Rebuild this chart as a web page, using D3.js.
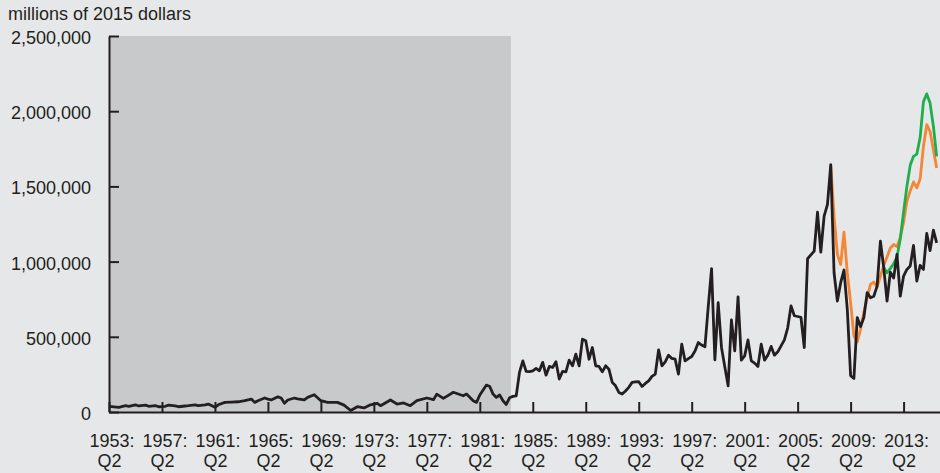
<!DOCTYPE html>
<html>
<head>
<meta charset="utf-8">
<script src="https://cdn.jsdelivr.net/npm/d3@7"></script>
<style>
  body { margin: 0; background: #e6e7e9; }
  svg { display: block; }
  text { font-family: "Liberation Sans", Arial, Helvetica, sans-serif; fill: #231f20; }
</style>
</head>
<body>
<svg id="chart" width="940" height="473"></svg>
<script>
const WIDTH = 940;
const HEIGHT = 473;
const MARGIN = { top: 36, right: 0, bottom: 61, left: 109 };

// millions of 2015 dollars
const actualSeries = [
  ['1953Q2', 38000], ['1954Q1', 31000], ['1954Q3', 42000], ['1954Q4', 38000], ['1955Q2', 48000],
  ['1955Q3', 40000], ['1956Q1', 46000], ['1956Q2', 38000], ['1956Q4', 42000], ['1957Q1', 35000],
  ['1957Q3', 38000], ['1957Q4', 46000], ['1958Q2', 40000], ['1958Q3', 35000], ['1959Q1', 40000],
  ['1959Q2', 42000], ['1959Q4', 48000], ['1960Q1', 42000], ['1960Q3', 48000], ['1960Q4', 53000],
  ['1961Q2', 31000], ['1961Q3', 48000], ['1962Q1', 64000], ['1962Q3', 66000], ['1963Q1', 68000],
  ['1963Q3', 75000], ['1964Q1', 86000], ['1964Q2', 64000], ['1964Q3', 75000], ['1965Q1', 93000],
  ['1965Q2', 86000], ['1965Q3', 80000], ['1966Q1', 101000], ['1966Q2', 93000], ['1966Q3', 58000],
  ['1966Q4', 80000], ['1967Q2', 93000], ['1967Q3', 88000], ['1968Q1', 80000], ['1968Q2', 97000],
  ['1968Q4', 115000], ['1969Q2', 75000], ['1969Q4', 64000], ['1970Q3', 64000], ['1971Q1', 46000],
  ['1971Q3', 10000], ['1972Q1', 35000], ['1972Q3', 27000], ['1973Q1', 48000], ['1973Q3', 58000],
  ['1973Q4', 42000], ['1974Q3', 80000], ['1975Q1', 53000], ['1975Q3', 60000], ['1976Q1', 42000],
  ['1976Q3', 75000], ['1977Q2', 93000], ['1977Q4', 82000], ['1978Q1', 119000], ['1978Q3', 91000],
  ['1978Q4', 104000], ['1979Q2', 131000], ['1980Q1', 108000], ['1980Q2', 119000], ['1980Q4', 75000],
  ['1981Q1', 64000], ['1981Q2', 113000], ['1981Q4', 179000], ['1982Q1', 170000], ['1982Q2', 119000],
  ['1982Q3', 97000], ['1982Q4', 113000], ['1983Q1', 75000], ['1983Q2', 50000], ['1983Q3', 95000],
  ['1983Q4', 104000], ['1984Q1', 108000], ['1984Q2', 265000], ['1984Q3', 340000], ['1984Q4', 270000],
  ['1985Q1', 268000], ['1985Q2', 274000], ['1985Q3', 290000], ['1985Q4', 274000],
  ['1986Q1', 330000], ['1986Q2', 245000], ['1986Q3', 303000], ['1986Q4', 296000],
  ['1987Q1', 334000], ['1987Q2', 219000], ['1987Q3', 270000], ['1987Q4', 267000],
  ['1988Q1', 345000], ['1988Q2', 307000], ['1988Q3', 385000], ['1988Q4', 307000],
  ['1989Q1', 484000], ['1989Q2', 473000], ['1989Q3', 351000], ['1989Q4', 429000],
  ['1990Q1', 307000], ['1990Q2', 303000], ['1990Q3', 267000], ['1990Q4', 307000],
  ['1991Q1', 285000], ['1991Q2', 197000], ['1991Q3', 174000], ['1991Q4', 130000],
  ['1992Q1', 119000], ['1992Q2', 140000], ['1992Q3', 164000], ['1992Q4', 197000],
  ['1993Q1', 200000], ['1993Q2', 201000], ['1993Q3', 170000], ['1993Q4', 190000],
  ['1994Q1', 207000], ['1994Q2', 237000], ['1994Q3', 252000], ['1994Q4', 413000],
  ['1995Q1', 307000], ['1995Q2', 334000], ['1995Q3', 378000], ['1995Q4', 356000],
  ['1996Q1', 351000], ['1996Q2', 252000], ['1996Q3', 451000], ['1996Q4', 340000],
  ['1997Q1', 355000], ['1997Q2', 369000], ['1997Q3', 406000], ['1997Q4', 462000],
  ['1998Q1', 445000], ['1998Q2', 433000], ['1998Q3', 700000], ['1998Q4', 953000],
  ['1999Q1', 347000], ['1999Q2', 727000], ['1999Q3', 429000], ['1999Q4', 300000],
  ['2000Q1', 174000], ['2000Q2', 612000], ['2000Q3', 406000], ['2000Q4', 765000],
  ['2001Q1', 345000], ['2001Q2', 373000], ['2001Q3', 479000], ['2001Q4', 340000],
  ['2002Q1', 325000], ['2002Q2', 303000], ['2002Q3', 451000], ['2002Q4', 345000],
  ['2003Q1', 378000], ['2003Q2', 436000], ['2003Q3', 378000], ['2003Q4', 400000],
  ['2004Q1', 440000], ['2004Q2', 480000], ['2004Q3', 560000], ['2004Q4', 705000],
  ['2005Q1', 640000], ['2005Q2', 635000], ['2005Q3', 630000], ['2005Q4', 429000],
  ['2006Q1', 1019000], ['2006Q2', 1045000], ['2006Q3', 1070000], ['2006Q4', 1328000],
  ['2007Q1', 1063000], ['2007Q2', 1302000], ['2007Q3', 1379000], ['2007Q4', 1644000],
  ['2008Q1', 926000], ['2008Q2', 738000], ['2008Q3', 860000], ['2008Q4', 944000],
  ['2009Q1', 683000], ['2009Q2', 241000], ['2009Q3', 223000], ['2009Q4', 628000],
  ['2010Q1', 568000], ['2010Q2', 628000], ['2010Q3', 794000], ['2010Q4', 760000],
  ['2011Q1', 770000], ['2011Q2', 837000], ['2011Q3', 1136000], ['2011Q4', 960000],
  ['2012Q1', 738000], ['2012Q2', 930000], ['2012Q3', 890000], ['2012Q4', 1048000],
  ['2013Q1', 770000], ['2013Q2', 904000], ['2013Q3', 948000], ['2013Q4', 970000],
  ['2014Q1', 1107000], ['2014Q2', 871000], ['2014Q3', 975000], ['2014Q4', 948000],
  ['2015Q1', 1187000], ['2015Q2', 1073000], ['2015Q3', 1209000], ['2015Q4', 1125000]
];

const orangeSeries = [
  ['2007Q4', 1644000],
  ['2008Q1', 1302000], ['2008Q2', 1048000], ['2008Q3', 981000], ['2008Q4', 1196000],
  ['2009Q1', 926000], ['2009Q2', 727000], ['2009Q3', 506000], ['2009Q4', 466000],
  ['2010Q1', 550000], ['2010Q2', 665000], ['2010Q3', 760000], ['2010Q4', 849000],
  ['2011Q1', 864000], ['2011Q2', 830000], ['2011Q3', 904000], ['2011Q4', 975000],
  ['2012Q1', 1030000], ['2012Q2', 1090000], ['2012Q3', 1114000], ['2012Q4', 1100000],
  ['2013Q1', 1160000], ['2013Q2', 1260000], ['2013Q3', 1400000], ['2013Q4', 1470000],
  ['2014Q1', 1530000], ['2014Q2', 1490000], ['2014Q3', 1550000], ['2014Q4', 1766000],
  ['2015Q1', 1910000], ['2015Q2', 1865000], ['2015Q3', 1744000], ['2015Q4', 1623000]
];

const greenSeries = [
  ['2011Q4', 960000],
  ['2012Q1', 926000], ['2012Q2', 955000], ['2012Q3', 986000], ['2012Q4', 1030000],
  ['2013Q1', 1150000], ['2013Q2', 1330000], ['2013Q3', 1500000], ['2013Q4', 1640000],
  ['2014Q1', 1700000], ['2014Q2', 1715000], ['2014Q3', 1825000], ['2014Q4', 2064000],
  ['2015Q1', 2115000], ['2015Q2', 2054000], ['2015Q3', 1900000], ['2015Q4', 1700000]
];

const yTicks = [0, 500000, 1000000, 1500000, 2000000, 2500000];
const xTickYears = [1953, 1957, 1961, 1965, 1969, 1973, 1977, 1981, 1985, 1989, 1993, 1997, 2001, 2005, 2009, 2013];
const xDomain = ['1953Q2', '2016Q1'];
const shadedPeriod = ['1953Q2', '1983Q3'];

// "1983Q3" -> 1983.5
const toYear = (q) => +q.slice(0, 4) + (+q.slice(5) - 1) / 4;

const svg = d3.select('#chart');

const x = d3
  .scaleLinear()
  .domain(xDomain.map(toYear))
  .range([MARGIN.left, WIDTH - MARGIN.right]);

const y = d3
  .scaleLinear()
  .domain([0, 2500000])
  .range([HEIGHT - MARGIN.bottom, MARGIN.top]);

// shaded period
svg
  .append('rect')
  .attr('x', x(toYear(shadedPeriod[0])))
  .attr('y', y(2500000))
  .attr('width', x(toYear(shadedPeriod[1]) + 0.1) - x(toYear(shadedPeriod[0])))
  .attr('height', y(0) - y(2500000))
  .attr('fill', '#c8c9cb');

// title
svg
  .append('text')
  .attr('x', 8)
  .attr('y', 20)
  .attr('font-size', 18)
  .text('millions of 2015 dollars');

// y axis
const yAxisG = svg
  .append('g')
  .attr('transform', `translate(${MARGIN.left},0)`)
  .call(
    d3.axisLeft(y)
      .tickValues(yTicks)
      .tickSizeInner(-10)
      .tickSizeOuter(0)
      .tickPadding(18)
      .tickFormat(d3.format(','))
  );

yAxisG.attr('font-size', 18).attr('font-family', null);
yAxisG.selectAll('text').attr('dy', '0.42em');

// x axis
const xAxisG = svg
  .append('g')
  .attr('transform', `translate(0,${y(0)})`)
  .call(
    d3.axisBottom(x)
      .tickValues(xTickYears.map((yr) => yr + 0.25))
      .tickSizeInner(-10)
      .tickSizeOuter(0)
      .tickFormat('')
  );

xAxisG.attr('font-size', 18).attr('font-family', null);
xAxisG.selectAll('.tick text').remove();
xAxisG
  .selectAll('.tick')
  .append('text')
  .attr('text-anchor', 'middle')
  .attr('dx', 2.5)
  .attr('y', 35)
  .text((d) => `${Math.floor(d)}:`);
xAxisG
  .selectAll('.tick')
  .append('text')
  .attr('text-anchor', 'middle')
  .attr('y', 55)
  .text('Q2');

svg.selectAll('.domain, .tick line')
  .attr('stroke', '#231f20')
  .attr('stroke-width', 2);

// lines
const line = d3
  .line()
  .x((d) => x(toYear(d[0])))
  .y((d) => y(d[1]));

const lines = [
  { data: orangeSeries, color: '#f58634' },
  { data: greenSeries, color: '#1fae4b' },
  { data: actualSeries, color: '#231f20' }
];

svg
  .append('g')
  .selectAll('path')
  .data(lines)
  .join('path')
  .attr('d', (d) => line(d.data))
  .attr('fill', 'none')
  .attr('stroke', (d) => d.color)
  .attr('stroke-width', 2.8)
  .attr('stroke-linejoin', 'round');
</script>
</body>
</html>
